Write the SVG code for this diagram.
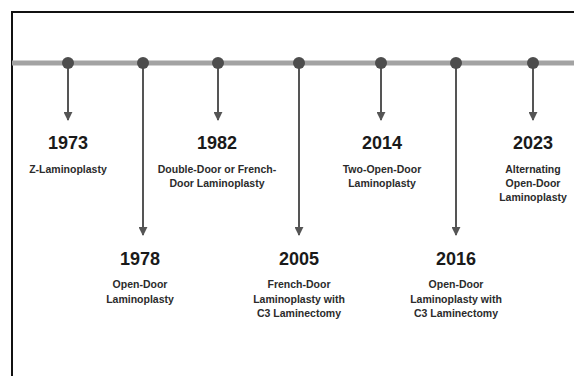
<svg xmlns="http://www.w3.org/2000/svg" width="574" height="376" viewBox="0 0 574 376">
<defs>
<style>
.yr{font-family:"Liberation Sans",Arial,sans-serif;font-weight:bold;font-size:18px;fill:#1a1a1a;text-anchor:middle}
.ds{font-family:"Liberation Sans",Arial,sans-serif;font-weight:bold;font-size:10.5px;fill:#2b2b2b;text-anchor:middle}
.ar{stroke:#555;stroke-width:2;fill:none}
.dot{fill:#4d4d4d}
</style>
<marker id="ah" viewBox="0 0 10 10" refX="9" refY="5" markerWidth="4.5" markerHeight="4.5" markerUnits="strokeWidth" orient="auto">
<path d="M0,0 L10,5 L0,10 z" fill="#555"/>
</marker>
</defs>
<rect width="574" height="376" fill="#fff"/>
<path d="M12,376 V12 H574" fill="none" stroke="#111" stroke-width="2"/>
<line x1="12" y1="63" x2="574" y2="63" stroke="#a3a3a3" stroke-width="5"/>
<g id="connectors">
<line class="ar" x1="68" y1="63" x2="68" y2="120" marker-end="url(#ah)"/>
<line class="ar" x1="143" y1="63" x2="143" y2="235" marker-end="url(#ah)"/>
<line class="ar" x1="218" y1="63" x2="218" y2="120" marker-end="url(#ah)"/>
<line class="ar" x1="299" y1="63" x2="299" y2="235" marker-end="url(#ah)"/>
<line class="ar" x1="381" y1="63" x2="381" y2="120" marker-end="url(#ah)"/>
<line class="ar" x1="456" y1="63" x2="456" y2="235" marker-end="url(#ah)"/>
<line class="ar" x1="533" y1="63" x2="533" y2="120" marker-end="url(#ah)"/>
</g>
<g id="dots">
<circle class="dot" cx="68" cy="63" r="6"/>
<circle class="dot" cx="143" cy="63" r="6"/>
<circle class="dot" cx="218" cy="63" r="6"/>
<circle class="dot" cx="299" cy="63" r="6"/>
<circle class="dot" cx="381" cy="63" r="6"/>
<circle class="dot" cx="456" cy="63" r="6"/>
<circle class="dot" cx="533" cy="63" r="6"/>
</g>
<g id="n1973">
<text class="yr" x="68" y="149">1973</text>
<text class="ds" x="68" y="173">Z-Laminoplasty</text>
</g>
<g id="n1978">
<text class="yr" x="140" y="265">1978</text>
<text class="ds" x="140" y="288">Open-Door</text>
<text class="ds" x="140" y="303">Laminoplasty</text>
</g>
<g id="n1982">
<text class="yr" x="217" y="149">1982</text>
<text class="ds" x="217" y="173">Double-Door or French-</text>
<text class="ds" x="217" y="187">Door Laminoplasty</text>
</g>
<g id="n2005">
<text class="yr" x="299" y="265">2005</text>
<text class="ds" x="299" y="288">French-Door</text>
<text class="ds" x="299" y="303">Laminoplasty with</text>
<text class="ds" x="299" y="317">C3 Laminectomy</text>
</g>
<g id="n2014">
<text class="yr" x="382" y="149">2014</text>
<text class="ds" x="382" y="173">Two-Open-Door</text>
<text class="ds" x="382" y="187">Laminoplasty</text>
</g>
<g id="n2016">
<text class="yr" x="456" y="265">2016</text>
<text class="ds" x="456" y="288">Open-Door</text>
<text class="ds" x="456" y="303">Laminoplasty with</text>
<text class="ds" x="456" y="317">C3 Laminectomy</text>
</g>
<g id="n2023">
<text class="yr" x="533" y="149">2023</text>
<text class="ds" x="533" y="173">Alternating</text>
<text class="ds" x="533" y="187">Open-Door</text>
<text class="ds" x="533" y="201">Laminoplasty</text>
</g>
</svg>
